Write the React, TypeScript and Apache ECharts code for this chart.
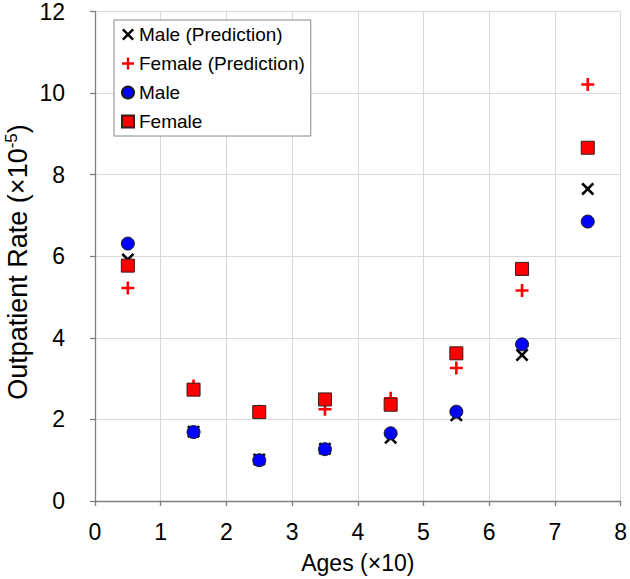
import React, { useEffect, useRef } from "react";
import * as echarts from "echarts";

const ages = [0.5, 1.5, 2.5, 3.5, 4.5, 5.5, 6.5, 7.5];
const malePrediction = [5.92, 1.7, 1.02, 1.28, 1.55, 2.1, 3.58, 7.65];
const femalePrediction = [5.22, 2.82, 2.2, 2.25, 2.52, 3.26, 5.16, 10.21];
const male = [6.31, 1.69, 1.0, 1.27, 1.66, 2.19, 3.84, 6.85];
const female = [5.77, 2.73, 2.18, 2.49, 2.36, 3.62, 5.69, 8.66];
const xTicks = { min: 0, max: 8, interval: 1 };
const yTicks = { min: 0, max: 12, interval: 2 };

const X_PATH =
  "path://M0,14 L14,0 L50,36 L86,0 L100,14 L64,50 L100,86 L86,100 L50,64 L14,100 L0,86 L36,50 Z";
const PLUS_PATH =
  "path://M40,0 H60 V40 H100 V60 H60 V100 H40 V60 H0 V40 H40 Z";

const FONT = "Liberation Sans, Arial, sans-serif";

function pairs(vals: number[]) {
  return ages.map((a, i) => [a, vals[i]]);
}

export default function App() {
  const ref = useRef<HTMLDivElement>(null);
  useEffect(() => {
    if (!ref.current) return;
    const chart = echarts.init(ref.current, undefined, { renderer: "svg" });
    chart.setOption({
      animation: false,
      backgroundColor: "#ffffff",
      grid: { left: 95, right: 8, top: 11, bottom: 78, containLabel: false },
      legend: {
        orient: "vertical",
        left: 114,
        top: 20,
        padding: [5, 6, 5, 7],
        itemGap: 10,
        itemWidth: 12,
        itemHeight: 12,
        borderColor: "#888888",
        borderWidth: 1,
        backgroundColor: "#ffffff",
        textStyle: { fontFamily: FONT, fontSize: 19, color: "#000" },
        data: [
          { name: "Male (Prediction)", icon: X_PATH },
          { name: "Female (Prediction)", icon: PLUS_PATH },
          { name: "Male", icon: "circle" },
          { name: "Female", icon: "rect" },
        ],
      },
      graphic: [
        {
          type: "text",
          x: 17,
          y: 262,
          rotation: Math.PI / 2,
          silent: true,
          style: {
            text: "{a|Outpatient Rate (×10}{s|-5}{a|)}",
            align: "center",
            verticalAlign: "middle",
            fill: "#000",
            rich: {
              a: { fontFamily: FONT, fontSize: 27, fill: "#000", lineHeight: 28, verticalAlign: "bottom" },
              s: { fontFamily: FONT, fontSize: 17, fill: "#000", lineHeight: 28, verticalAlign: "top" },
            },
          },
        },
      ],
      xAxis: {
        type: "value",
        min: xTicks.min,
        max: xTicks.max,
        interval: xTicks.interval,
        name: "Ages (×10)",
        nameLocation: "middle",
        nameGap: 50,
        nameTextStyle: { fontFamily: FONT, fontSize: 23, color: "#000" },
        axisLine: { show: true, lineStyle: { color: "#7f7f7f", width: 1.3 } },
        axisTick: { show: true, length: 5, lineStyle: { color: "#7f7f7f", width: 1.3 } },
        axisLabel: { fontFamily: FONT, fontSize: 23, color: "#000", margin: 19 },
        splitLine: { show: true, lineStyle: { color: "#d9d9d9", width: 1 } },
      },
      yAxis: {
        type: "value",
        min: yTicks.min,
        max: yTicks.max,
        interval: yTicks.interval,
        axisLine: { show: true, lineStyle: { color: "#7f7f7f", width: 1.3 } },
        axisTick: { show: true, length: 5, lineStyle: { color: "#7f7f7f", width: 1.3 } },
        axisLabel: { fontFamily: FONT, fontSize: 23, color: "#000", margin: 30 },
        splitLine: { show: true, lineStyle: { color: "#d9d9d9", width: 1 } },
      },
      series: [
        {
          name: "Male (Prediction)",
          type: "scatter",
          symbol: X_PATH,
          symbolSize: 13,
          itemStyle: { color: "#000000", opacity: 1 },
          data: pairs(malePrediction),
          z: 1,
        },
        {
          name: "Female (Prediction)",
          type: "scatter",
          symbol: PLUS_PATH,
          symbolSize: 13,
          itemStyle: { color: "#ff0000", opacity: 1 },
          data: pairs(femalePrediction),
          z: 2,
        },
        {
          name: "Male",
          type: "scatter",
          symbol: "circle",
          symbolSize: 13,
          itemStyle: { color: "#0000ff", borderColor: "#1a1a1a", borderWidth: 1, opacity: 1 },
          data: pairs(male),
          z: 3,
        },
        {
          name: "Female",
          type: "scatter",
          symbol: "rect",
          symbolSize: 13,
          itemStyle: { color: "#ff0000", borderColor: "#3a1a1a", borderWidth: 1, opacity: 1 },
          data: pairs(female),
          z: 4,
        },
      ],
    });
    return () => chart.dispose();
  }, []);
  return <div ref={ref} style={{ width: 630, height: 579, position: "absolute", left: 0, top: 0 }} />;
}
